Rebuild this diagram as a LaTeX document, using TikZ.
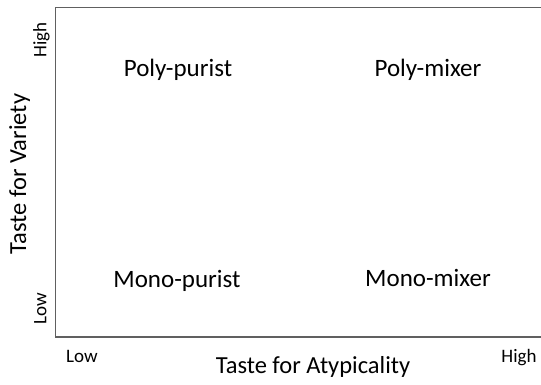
\documentclass[tikz,border=0pt]{standalone}
\usepackage{fontspec}
\setmainfont{Carlito}
\definecolor{framegray}{RGB}{96,96,96}
\tikzset{
  frame-line/.style={
    line width=1.5pt,
    draw=framegray
  },
  quad-label/.style={inner sep=0pt, anchor=base, font=\fontsize{25}{29}\selectfont},
  axis-title/.style={inner sep=0pt, anchor=base, font=\fontsize{24.5}{29}\selectfont},
  tick-label/.style={inner sep=0pt, anchor=base, font=\fontsize{19}{23}\selectfont}
}

\begin{document}
\begin{tikzpicture}[x=1pt,y=1pt]
  \useasboundingbox (0,0) rectangle (541,384);

  % frame open to the right
  \coordinate (tr) at (541,376.5);
  \coordinate (tl) at (55.5,376.5);
  \coordinate (bl) at (55.5,47);
  \coordinate (br) at (541,47);
  \draw[frame-line] (tr) -- (tl) -- (bl) -- (br);

  % quadrants
  \node[quad-label] (polypurist) at (178,307.5) {Poly-purist};
  \node[quad-label] (polymixer) at (428,308) {Poly-mixer};
  \node[quad-label] (monopurist) at (177,97) {Mono-purist};
  \node[quad-label] (monomixer) at (428,97.5) {Mono-mixer};

  % axes
  \node[axis-title] (xtitle) at (313,11) {Taste for Atypicality};
  \node[axis-title, rotate=90] (ytitle) at (26,210) {Taste for Variety};
  \node[tick-label] (xlow) at (82,22) {Low};
  \node[tick-label] (xhigh) at (519,22) {High};
  \node[tick-label, rotate=90] (ylow) at (46.5,75) {Low};
  \node[tick-label, rotate=90] (yhigh) at (46.5,344) {High};
\end{tikzpicture}
\end{document}
